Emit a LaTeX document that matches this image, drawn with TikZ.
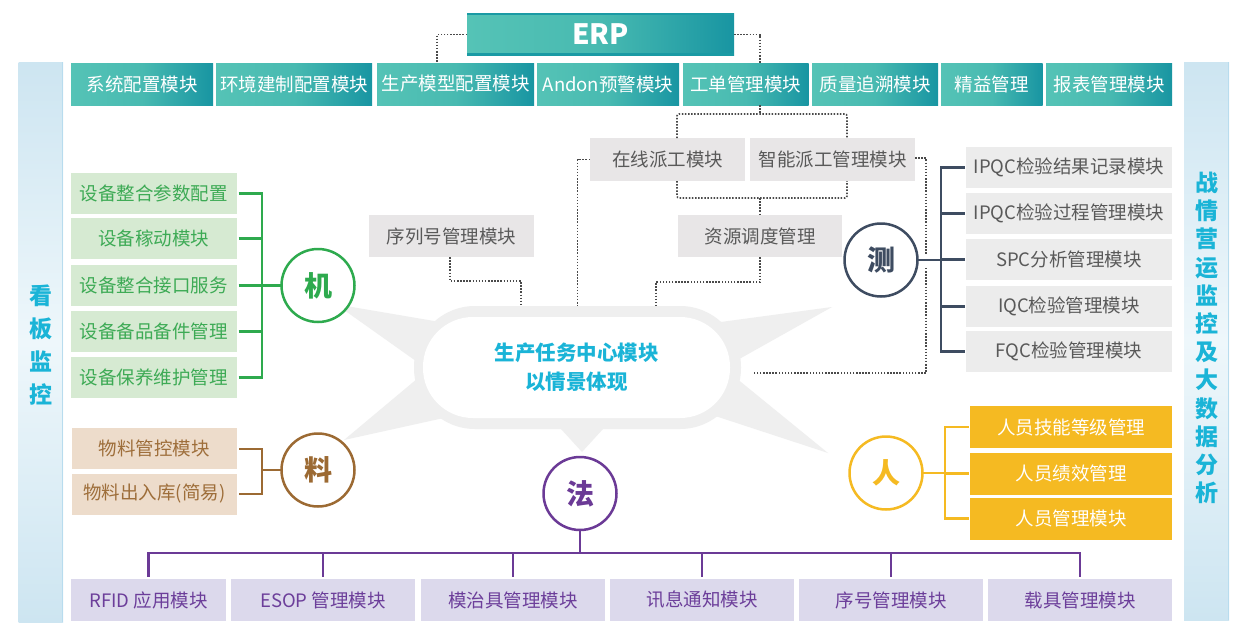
\documentclass[tikz,border=0pt]{standalone}
\usepackage{fontspec}
\setmainfont{Noto Sans CJK SC}
\usetikzlibrary{calc}
\definecolor{tealL}{HTML}{55C3B6}
\definecolor{tealM}{HTML}{48BAB1}
\definecolor{tealD}{HTML}{1895A2}
\definecolor{tealLine}{HTML}{1A9AA4}
\definecolor{cloudgray}{HTML}{EFEFEF}
\definecolor{boxgray}{HTML}{E8E6E7}
\definecolor{boxgrayB}{HTML}{ECECEC}
\definecolor{txtgray}{HTML}{595959}
\definecolor{dotgray}{HTML}{4A4A4A}
\definecolor{gFill}{HTML}{D6EAD2}
\definecolor{gText}{HTML}{3DAA55}
\definecolor{gLine}{HTML}{2EAA4E}
\definecolor{bFill}{HTML}{EDDCCB}
\definecolor{bText}{HTML}{9E6E3A}
\definecolor{bLine}{HTML}{9C6A33}
\definecolor{pFill}{HTML}{DCD9EC}
\definecolor{pText}{HTML}{6C3E9A}
\definecolor{pLine}{HTML}{6B3A96}
\definecolor{sLine}{HTML}{3E4C61}
\definecolor{yFill}{HTML}{F5BA22}
\definecolor{cyanT}{HTML}{1AB4D7}
\definecolor{sideA}{HTML}{CDE5F1}
\definecolor{sideB}{HTML}{EEF7FB}
\definecolor{sideEdge}{HTML}{B8DCEE}
\begin{document}
\begin{tikzpicture}[x=1pt,y=-1pt,
  every node/.style={inner sep=0pt, outer sep=0pt},
  lbl/.style={font=\fontsize{18.5}{20}\selectfont},
  tealbox/.style={lbl, text=white, left color=tealL, right color=tealD, middle color=tealM, minimum height=42},
  graybox/.style={lbl, text=txtgray, fill=boxgray, minimum height=42},
  testbox/.style={lbl, text=txtgray, fill=boxgrayB, minimum height=41, minimum width=206},
  gbox/.style={lbl, text=gText, fill=gFill, minimum height=41, minimum width=165.5},
  bbox/.style={lbl, text=bText, fill=bFill, minimum height=41, minimum width=164.5},
  pbox/.style={lbl, text=pText, fill=pFill, minimum height=42},
  ybox/.style={lbl, text=white, fill=yFill, minimum height=42, minimum width=202},
  circ/.style={circle, draw, line width=2.5, fill=white, minimum size=73, font=\fontsize{28}{30}\selectfont\bfseries},
  dotline/.style={draw=dotgray, line width=1.6, dash pattern=on 1.5pt off 1.6pt},
  conn/.style={line width=2.5},
]
\useasboundingbox (0,0) rectangle (1245,640);
\fill[white] (0,0) rectangle (1245,640);

% side bars
\shade[top color=sideA, bottom color=sideA, middle color=sideB] (18.5,62) rectangle (63,622);
\draw[sideEdge, line width=1] (62.5,62) -- (62.5,622);
\shade[top color=sideA, bottom color=sideA, middle color=sideB] (1184,62) rectangle (1229,620);
\draw[sideEdge, line width=1] (1228.5,62) -- (1228.5,620);
\node[font=\fontsize{23}{33}\selectfont\bfseries, text=cyanT, align=center] (lside) at (40.5,345) {看\\板\\监\\控};
\node[font=\fontsize{23}{28.2}\selectfont\bfseries, text=cyanT, align=center] (rside) at (1206.5,338) {战\\情\\营\\运\\监\\控\\及\\大\\数\\据\\分\\析};

% ERP
\node[left color=tealL, right color=tealD, middle color=tealM, minimum width=267, minimum height=42,
      text=white, font=\fontsize{28}{30}\selectfont\bfseries] (erp) at (600.5,34.5) {ERP};
\draw[tealLine, line width=1.5] (467,14) -- (734,14);
\draw[tealLine, line width=2.5] (467,54.5) -- (734,54.5);

% top modules
\node[tealbox, minimum width=142] (m1) at (142,84) {系统配置模块};
\node[tealbox, minimum width=156] (m2) at (294,84) {环境建制配置模块};
\node[tealbox, minimum width=157] (m3) at (455.5,84) {生产模型配置模块};
\node[tealbox, minimum width=142] (m4) at (608,84) {Andon预警模块};
\node[tealbox, minimum width=125.5] (m5) at (745.75,84) {工单管理模块};
\node[tealbox, minimum width=126] (m6) at (875,84) {质量追溯模块};
\node[tealbox, minimum width=101.5] (m7) at (991.75,84) {精益管理};
\node[tealbox, minimum width=126] (m8) at (1109,84) {报表管理模块};

\draw[dotline] (erp.west) -| ([xshift=-18.5]m3.north);
\draw[dotline] (erp.east) -| ([xshift=14.25]m5.north);

% burst / cloud
\fill[cloudgray] (336,304.3) -- (460,325.4) -- (430,371) -- cycle;
\fill[cloudgray] (344,440) -- (455,415.5) -- (430,368) -- cycle;
\fill[cloudgray] (582,452) -- (550.5,417.5) -- (613.5,417.5) -- cycle;
\fill[cloudgray] (832,307) -- (700,324.8) -- (725,367) -- cycle;
\fill[cloudgray] (828,453) -- (725,369) -- (700,411) -- cycle;
\node[fill=cloudgray, rounded corners=61, minimum width=327, minimum height=123] (core) at (577.5,367.5) {};
\node[fill=white, rounded corners=50, minimum width=307, minimum height=101,
      text=cyanT, font=\fontsize{20.5}{29}\selectfont\bfseries, align=center] (coretxt) at (576.5,367.5)
      {生产任务中心模块\\以情景体现};

% dispatch boxes
\node[graybox, minimum width=155, minimum height=43] (zx) at (667.5,159.5) {在线派工模块};
\node[graybox, minimum width=165, minimum height=43] (zn) at (832.5,159.5) {智能派工管理模块};
\node[graybox, minimum width=164] (zy) at (760,236) {资源调度管理};
\node[graybox, minimum width=165] (xl) at (451.5,236) {序列号管理模块};

\coordinate (lt) at (760,114);
\coordinate (lb) at (760,198);
\draw[dotline] ([xshift=14.25]m5.south) -- (lt);
\draw[dotline, rounded corners=2] ([xshift=9.5]zx.north) |- (lt) -| ([xshift=14.5]zn.north);
\draw[dotline, rounded corners=2] ([xshift=9.5]zx.south) |- (lb) -| ([xshift=14.5]zn.south);
\draw[dotline] (lb) -- (zy.north);
\draw[dotline] (zx.west) -| (core.north);
\coordinate (zr) at (753,373);
\draw[dotline] ([yshift=1.5pt]zn.east) -| (926,373) -- (zr);
\draw[dotline] (zy.south) -- ++(0,25) -| ([xshift=78.5]core.north);
\draw[dotline] ([xshift=-1.5]xl.south) -- ++(0,24) -| ([xshift=-56.5]core.north);

% 机
\node[gbox] (j1) at (153.75,193.5) {设备整合参数配置};
\node[gbox] (j2) at (153.75,238.5) {设备稼动模块};
\node[gbox] (j3) at (153.75,285.5) {设备整合接口服务};
\node[gbox] (j4) at (153.75,331.5) {设备备品备件管理};
\node[gbox] (j5) at (153.75,377.5) {设备保养维护管理};
\node[circ, draw=gLine, text=gLine] (ji) at (318,285.5) {机};
\coordinate (jb) at (262,285.5);
\foreach \k in {1,...,5} \draw[conn, gLine] ([xshift=2]j\k.east) -| (jb);
\draw[conn, gLine] (jb) -- (ji);

% 料
\node[bbox] (l1) at (154.25,448.5) {物料管控模块};
\node[bbox] (l2) at (154.25,494) {物料出入库(简易)};
\node[circ, draw=bLine, text=bLine] (li) at (318,470) {料};
\coordinate (lbus) at (262,470);
\foreach \k in {1,2} \draw[conn, bLine, line width=2] ([xshift=2.5]l\k.east) -| (lbus);
\draw[conn, bLine, line width=2] (lbus) -- (li);

% 法
\node[circ, draw=pLine, text=pLine] (fa) at (580,493.5) {法};
\node[pbox, minimum width=155] (b1) at (148.5,600) {RFID 应用模块};
\node[pbox, minimum width=184] (b2) at (323,600) {ESOP 管理模块};
\node[pbox, minimum width=184] (b3) at (513,600) {模治具管理模块};
\node[pbox, minimum width=184] (b4) at (702,600) {讯息通知模块};
\node[pbox, minimum width=184] (b5) at (891,600) {序号管理模块};
\node[pbox, minimum width=184] (b6) at (1080,600) {载具管理模块};
\coordinate (fb) at (580,553);
\draw[conn, pLine] (fa) -- (fb);
\foreach \k in {1,...,6} \draw[conn, pLine] (fb) -| ([yshift=2pt]b\k.north);

% 测
\node[testbox] (c1) at (1069,167.5) {IPQC检验结果记录模块};
\node[testbox] (c2) at (1069,213.5) {IPQC检验过程管理模块};
\node[testbox] (c3) at (1069,259.5) {SPC分析管理模块};
\node[testbox] (c4) at (1069,306.5) {IQC检验管理模块};
\node[testbox] (c5) at (1069,351.5) {FQC检验管理模块};
\node[circ, draw=sLine, text=sLine] (ce) at (881,260) {测};
\coordinate (cb) at (941,260);
\foreach \k in {1,...,5} \draw[conn, sLine] (cb) |- ([xshift=-1]c\k.west);
\draw[white, line width=12] ([xshift=6]ce.east) -- ([xshift=-6]cb);
\draw[conn, sLine] (ce) -- (cb);

% 人
\node[ybox] (r1) at (1071,427) {人员技能等级管理};
\node[ybox] (r2) at (1071,473.5) {人员绩效管理};
\node[ybox] (r3) at (1071,518.5) {人员管理模块};
\node[circ, draw=yFill, text=yFill] (ri) at (886,473) {人};
\coordinate (rb) at (945,473);
\foreach \k in {1,2,3} \draw[conn, yFill] (rb) |- ([xshift=-1]r\k.west);
\draw[conn, yFill] (ri) -- (rb);
\end{tikzpicture}
\end{document}
